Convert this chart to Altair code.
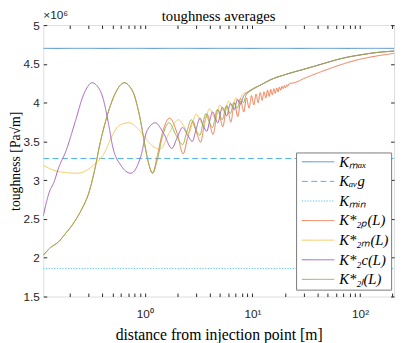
import altair as alt
import pandas as pd

# Toughness values are in units of 1e6 Pa*sqrt(m); distances in m
K_MAX = 4.70
K_AVG = 3.28
K_MIN = 1.86
X_RANGE = [0.1138, 207.0]

# K*_2l(L)  (green)
L_2l = [0.1138, 0.13, 0.159, 0.185, 0.211, 0.235, 0.26, 0.28, 0.299, 0.322, 0.344, 0.38, 0.424, 0.47,
        0.523, 0.58, 0.645, 0.72, 0.796, 0.86, 0.914, 0.98, 1.05, 1.12, 1.18,
        1.30, 1.45, 1.68, 1.95, 2.25, 2.45, 2.7, 2.95, 3.25, 3.45, 3.7, 3.95, 4.25, 4.7, 5.25, 5.7,
        6.25, 6.7, 7.25, 7.7, 8.25, 8.7, 10, 12, 15, 20, 25, 30, 40, 50, 70, 100, 140, 207]
K_2l = [2.03, 2.12, 2.21, 2.32, 2.42, 2.52, 2.63, 2.72, 2.82, 2.98, 3.15, 3.45, 3.72, 3.93,
        4.10, 4.21, 4.257, 4.21, 4.10, 3.93, 3.76, 3.52, 3.30, 3.15, 3.09,
        3.25, 3.55, 3.74, 3.58, 3.46, 3.62, 3.78, 3.66, 3.58, 3.72, 3.86, 3.75, 3.68, 3.91, 3.78, 3.96,
        3.86, 4.00, 3.93, 4.05, 4.00, 4.09, 4.17, 4.23, 4.30, 4.36, 4.40, 4.43, 4.48, 4.52, 4.575, 4.615, 4.645, 4.665]

# K*_2p(L)  (orange) -- same as green below L ~ 1.2
L_2p = [0.1138, 0.13, 0.159, 0.185, 0.211, 0.235, 0.26, 0.28, 0.299, 0.322, 0.344, 0.38, 0.424, 0.47,
        0.523, 0.58, 0.645, 0.72, 0.796, 0.86, 0.914, 0.98, 1.05, 1.12, 1.18,
        1.3, 1.45, 1.7, 2.0, 2.27, 2.5, 2.8, 3.05, 3.3, 3.55, 3.8, 4.3, 4.8, 5.3, 5.8, 6.3, 6.8, 7.3, 7.8,
        8.3, 8.8, 9.3, 9.8, 10.3, 10.8, 11.3, 11.8, 12.3, 12.8, 13.3, 13.8, 14.3, 14.8, 15.3, 15.8,
        16.3, 16.8, 17.3, 17.8, 18.3, 18.8, 19.3, 19.8, 20.3, 20.8, 21.3, 21.8,
        25, 30, 40, 50, 70, 100, 140, 207]
K_2p = [2.03, 2.12, 2.21, 2.32, 2.42, 2.52, 2.63, 2.72, 2.82, 2.98, 3.15, 3.45, 3.72, 3.93,
        4.10, 4.21, 4.257, 4.21, 4.10, 3.93, 3.76, 3.52, 3.30, 3.15, 3.09,
        3.30, 3.60, 3.80, 3.60, 3.34, 3.55, 3.76, 3.60, 3.49, 3.70, 3.85, 3.59, 3.91, 3.69, 3.96, 3.75, 4.00, 3.82, 4.02,
        3.88, 4.06, 3.93, 4.09, 3.97, 4.11, 4.00, 4.13, 4.03, 4.14, 4.06, 4.16, 4.08, 4.17, 4.10, 4.18,
        4.12, 4.19, 4.14, 4.20, 4.16, 4.21, 4.18, 4.22, 4.19, 4.23, 4.21, 4.24,
        4.26, 4.31, 4.38, 4.43, 4.50, 4.56, 4.60, 4.635]

# K*_2m(L)  (yellow)
L_2m = [0.1138, 0.159, 0.234, 0.29, 0.344, 0.424, 0.487, 0.585, 0.716, 0.853, 0.981, 1.168, 1.39,
        1.67, 2.06, 2.3, 2.55, 2.8, 3.0, 3.25, 3.5, 3.75, 4.0, 4.5, 5.0, 5.5, 6.0, 6.5, 7.0, 7.5, 8.0,
        9, 10, 12, 15, 20, 25, 30, 40, 50, 70, 100, 140, 207]
K_2m = [3.19, 3.11, 3.09, 3.13, 3.21, 3.36, 3.55, 3.71, 3.74, 3.67, 3.57, 3.445, 3.40,
        3.60, 3.78, 3.70, 3.60, 3.76, 3.85, 3.78, 3.70, 3.84, 3.92, 3.80, 3.97, 3.88, 4.02, 3.95, 4.06, 4.01, 4.10,
        4.14, 4.18, 4.23, 4.30, 4.36, 4.40, 4.43, 4.48, 4.52, 4.575, 4.615, 4.645, 4.665]

# K*_2c(L)  (purple)
L_2c = [0.1138, 0.129, 0.1435, 0.159, 0.183, 0.226, 0.269, 0.299, 0.32, 0.368, 0.409, 0.455, 0.505,
        0.60, 0.74, 0.914, 1.05, 1.25, 1.5, 1.78, 2.0, 2.24, 2.5, 2.76, 3.0, 3.25, 3.5, 3.76, 4.0,
        4.25, 4.76, 5.25, 5.76, 6.25, 6.76, 7.25, 7.76, 8.25, 9.2, 10, 12, 15, 20, 25, 30, 40, 50,
        70, 100, 140, 207]
K_2c = [2.54, 2.84, 2.98, 3.17, 3.36, 3.76, 4.10, 4.22, 4.257, 4.20, 4.055, 3.76, 3.42,
        3.19, 3.09, 3.30, 3.64, 3.74, 3.60, 3.41, 3.55, 3.68, 3.58, 3.50, 3.66, 3.80, 3.70, 3.63, 3.76,
        3.88, 3.74, 3.94, 3.83, 3.99, 3.91, 4.04, 3.98, 4.08, 4.14, 4.17, 4.23, 4.30, 4.36, 4.40, 4.43, 4.48, 4.52,
        4.575, 4.615, 4.645, 4.665]

SERIES = ["Kₘₐₓ", "Kₐᵥg", "Kₘᵢₙ", "K*₂ₚ(L)", "K*₂ₘ(L)", "K*₂c(L)", "K*₂ₗ(L)"]
COLORS = ["#4a8fcc", "#4db3ea", "#4dbeee", "#ee7a4e", "#f5c75a", "#a35fbc", "#8db24a"]
DASHES = [[1, 0], [6, 3.5], [1.2, 1.6], [1, 0], [1, 0], [1, 0], [1, 0]]

X_TICKS = [0.2, 0.3, 0.4, 0.5, 0.6, 0.7, 0.8, 0.9, 1, 2, 3, 4, 5, 6, 7, 8, 9,
           10, 20, 30, 40, 50, 60, 70, 80, 90, 100, 200]
Y_TICKS = [1.5, 2, 2.5, 3, 3.5, 4, 4.5, 5]

rows = []
curves = [
    (SERIES[0], X_RANGE, [K_MAX, K_MAX]),
    (SERIES[1], X_RANGE, [K_AVG, K_AVG]),
    (SERIES[2], X_RANGE, [K_MIN, K_MIN]),
    (SERIES[3], L_2p, K_2p),
    (SERIES[4], L_2m, K_2m),
    (SERIES[5], L_2c, K_2c),
    (SERIES[6], L_2l, K_2l),
]
for name, xs, ys in curves:
    for x, y in zip(xs, ys):
        rows.append({"series": name, "L": x, "K": y})
df = pd.DataFrame(rows)

xscale = alt.Scale(type="log", domain=X_RANGE, nice=False)
yscale = alt.Scale(domain=[1.5, 5], nice=False, zero=False)

AX = "#262626"
legend = alt.Legend(
    title=None, orient="none", legendX=258, legendY=130,
    symbolType="M-3,0H3", symbolSize=121, symbolStrokeWidth=1,
    symbolOffset=13, labelOffset=14,
    labelFont="Liberation Serif", labelFontStyle="italic", labelFontSize=15, labelColor="black",
    fillColor="white", strokeColor="#7a7a7a", padding=2, rowPadding=4,
    labelLimit=200,
)

lines = alt.Chart(df).mark_line(strokeWidth=1, clip=True, interpolate="monotone").encode(
    x=alt.X("L:Q", scale=xscale, axis=alt.Axis(
        orient="bottom", offset=-3.5, tickSize=3.5, values=X_TICKS, domain=False, grid=False,
        tickColor=AX, labelColor=AX, labelFont="Liberation Sans", labelFontSize=12,
        labelPadding=12, labelOverlap=False,
        labelExpr="datum.value == 1 ? '10⁰' : datum.value == 10 ? '10¹' : datum.value == 100 ? '10²' : ''",
        title="distance from injection point [m]", titleFont="Liberation Serif", titleFontSize=16,
        titleFontWeight="normal", titleColor="black", titlePadding=8)),
    y=alt.Y("K:Q", scale=yscale, axis=alt.Axis(
        orient="left", offset=-3.5, tickSize=3.5, values=Y_TICKS, domain=False, grid=False,
        tickColor=AX, labelColor=AX, labelFont="Liberation Sans", labelFontSize=12,
        labelPadding=4, labelExpr="format(datum.value, '~g')",
        title="toughness [Pa√m]", titleFont="Liberation Serif", titleFontSize=14,
        titleFontWeight="normal", titleColor="black", titlePadding=1)),
    color=alt.Color("series:N", scale=alt.Scale(domain=SERIES, range=COLORS), legend=legend),
    strokeDash=alt.StrokeDash("series:N", scale=alt.Scale(domain=SERIES, range=DASHES), legend=legend),
)

ticks = alt.Chart(df).mark_line(opacity=0).encode(
    x=alt.X("L:Q", scale=xscale, axis=alt.Axis(
        orient="top", offset=-3.5, tickSize=3.5, values=X_TICKS, domain=False, grid=False,
        labels=False, tickColor=AX, title=None)),
    y=alt.Y("K:Q", scale=yscale, axis=alt.Axis(
        orient="right", offset=-3.5, tickSize=3.5, values=Y_TICKS, domain=False, grid=False,
        labels=False, tickColor=AX, title=None)),
)

exp_label = alt.Chart(pd.DataFrame({"t": ["×10⁶"]})).mark_text(
    align="left", baseline="bottom", font="Liberation Sans", fontSize=12, color=AX
).encode(text="t:N", x=alt.value(0), y=alt.value(-3))

chart = alt.layer(lines, ticks, exp_label).resolve_axis(x="independent", y="independent").properties(
    width=358, height=277,
    title=alt.TitleParams("toughness averages", font="Liberation Serif", fontSize=15,
                          fontWeight="normal", color="black", anchor="middle", frame="group",
                          offset=-30, baseline="bottom"),
    autosize=alt.AutoSizeParams(type="none"),
    padding={"left": 36, "top": 14, "right": 3, "bottom": 44},
).configure_view(stroke=AX, strokeWidth=1).configure(background="white")

chart.save("out.html", embed_options={"renderer": "svg", "actions": False})
